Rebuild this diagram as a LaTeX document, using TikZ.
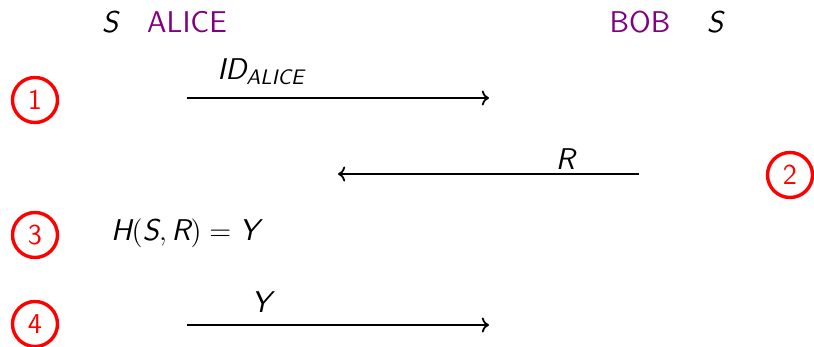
\documentclass[tikz,border=0pt]{standalone}
\usepackage{amsmath}
\usepackage{tikz}
\usetikzlibrary{arrows.meta}
\definecolor{partypurple}{RGB}{128,0,128}
\newcommand{\mv}[1]{\text{\sffamily\slshape #1}}
\newcommand{\bigtxt}{\fontsize{15}{18}\selectfont}
\begin{document}
\begin{tikzpicture}[x=0.5pt,y=-0.5pt,font=\bigtxt\sffamily,
  party/.style={text=partypurple},
  num/.style={circle,draw=red,line width=1.7pt,text=red,minimum size=22.5pt,inner sep=0pt,font=\Large\sffamily},
  msg/.style={->,line width=0.9pt},
  lbl/.style={inner sep=1pt,font=\bigtxt}]
\useasboundingbox (0,0) rectangle (814,347);
% header
\node (sA) at (110,22){$\mv{S}$};
\node[party] (alice) at (187,22){ALICE};
\node[party] (bob) at (640,22){BOB};
\node (sB) at (715,22){$\mv{S}$};
% step numbers
\foreach \i/\x/\y in {1/35/100,2/790/175,3/35/235,4/35/324}{\node[num] (n\i) at (\x,\y){\i};}
% messages
\coordinate (m1s) at (187,98); \coordinate (m1e) at (489,98);
\coordinate (m2s) at (639,174); \coordinate (m2e) at (338,174);
\coordinate (m4s) at (187,325); \coordinate (m4e) at (489,325);
\draw[msg] (m1s)--node[lbl,pos=0.245,above=5pt]{$\mv{ID}_{\mv{ALICE}}$}(m1e);
\draw[msg] (m2s)--node[lbl,pos=0.245,above=1pt]{$\mv{R}$}(m2e);
\node (hash) at (185,233){$\mv{H}(\mv{S},\mv{R})=\mv{Y}$};
\draw[msg] (m4s)--node[lbl,pos=0.245,above=5pt]{$\mv{Y}$}(m4e);
\end{tikzpicture}
\end{document}
